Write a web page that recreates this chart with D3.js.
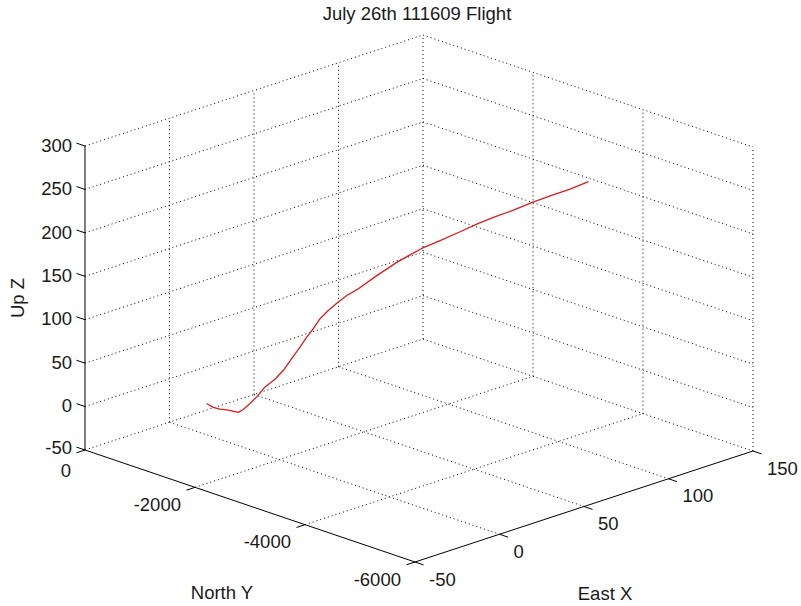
<!DOCTYPE html>
<html>
<head>
<meta charset="utf-8">
<script src="https://cdn.jsdelivr.net/npm/d3@7/dist/d3.min.js"></script>
<style>
  html, body { margin: 0; padding: 0; background: #fff; }
  svg { display: block; }
  text { font-family: "Liberation Sans", Arial, sans-serif; fill: #1a1a1a; }
</style>
</head>
<body>
<svg id="chart" width="801" height="606"></svg>
<script>
// Flight track (East X, North Y, Up Z)
const eastX = [-10.3, -8.3, -6.4, -3.9, -1.0, 0.4, 2.4, 4.4, 6.8, 9.7, 12.2, 14.6, 17.0, 19.0, 20.9,
  22.9, 25.3, 27.8, 30.7, 34.1, 39.5, 45.3, 49.2, 52.6, 58.0, 63.9, 68.7, 73.6, 79.5, 84.8, 90.2, 96.0, 101.4];
const northY = [-992, -1052, -1114, -1190, -1282, -1328, -1390, -1452, -1528, -1620, -1696, -1773, -1850, -1911, -1972,
  -2033, -2110, -2187, -2279, -2386, -2555, -2739, -2861, -2969, -3137, -3321, -3475, -3627, -3811, -3980, -4149, -4333, -4501];
const upZ = [-0.5, -5.0, -6.9, -7.9, -10.5, -7.0, 0.0, 7.6, 19.2, 28.1, 38.5, 52.1, 65.5, 77.0, 86.7,
  98.3, 107.9, 116.3, 125.3, 133.1, 148.5, 164.0, 172.7, 180.3, 189.4, 199.9, 208.9, 216.7, 225.4, 234.3, 242.2, 250.1, 259.0];

// Axis ticks
const xTicks = [-50, 0, 50, 100, 150];
const yTicks = [0, -2000, -4000, -6000];
const zTicks = [-50, 0, 50, 100, 150, 200, 250, 300];

const titleText = "July 26th 111609 Flight";
const xLabel = "East X", yLabel = "North Y", zLabel = "Up Z";

const svg = d3.select("#chart");

// Normalised axis scales
const xs = d3.scaleLinear().domain([-50, 150]).range([0, 1]);
const ys = d3.scaleLinear().domain([0, -6000]).range([0, 1]);
const zs = d3.scaleLinear().domain([-50, 300]).range([0, 1]);

// Orthographic view: screen vectors of each unit axis
const O = [85, 450];          // (x=-50, y=0, z=-50)
const U = [330, 112];         // along North Y (0 -> -6000)
const V = [338, -111];        // along East X (-50 -> 150)
const W = [0, -304];          // along Up Z (-50 -> 300)

function proj(x, y, z) {
  const a = ys(y), b = xs(x), c = zs(z);
  return [O[0] + a * U[0] + b * V[0] + c * W[0],
          O[1] + a * U[1] + b * V[1] + c * W[1]];
}
function unit(v) { const n = Math.hypot(v[0], v[1]); return [v[0] / n, v[1] / n]; }

const xMin = -50, xMax = 150, yMin = -6000, yMax = 0, zMin = -50, zMax = 300;

const gridG = svg.append("g")
  .attr("stroke", "#000").attr("stroke-width", 1)
  .attr("stroke-dasharray", "1,3").attr("fill", "none");

function seg(g, p, q) {
  g.append("line").attr("x1", p[0]).attr("y1", p[1]).attr("x2", q[0]).attr("y2", q[1]);
}

// Back wall y = 0
zTicks.forEach(z => seg(gridG, proj(xMin, yMax, z), proj(xMax, yMax, z)));
xTicks.filter(x => x !== xMin).forEach(x => seg(gridG, proj(x, yMax, zMin), proj(x, yMax, zMax)));
// Side wall x = 150
zTicks.forEach(z => seg(gridG, proj(xMax, yMax, z), proj(xMax, yMin, z)));
yTicks.filter(y => y !== yMax).forEach(y => seg(gridG, proj(xMax, y, zMin), proj(xMax, y, zMax)));
// Floor z = -50
xTicks.filter(x => x !== xMin && x !== xMax).forEach(x => seg(gridG, proj(x, yMax, zMin), proj(x, yMin, zMin)));
yTicks.filter(y => y !== yMin && y !== yMax).forEach(y => seg(gridG, proj(xMin, y, zMin), proj(xMax, y, zMin)));

// Axis lines
const axG = svg.append("g").attr("stroke", "#000").attr("stroke-width", 1).attr("fill", "none");
seg(axG, proj(xMin, yMax, zMin), proj(xMin, yMax, zMax));   // Z axis
seg(axG, proj(xMin, yMax, zMin), proj(xMin, yMin, zMin));   // Y axis
seg(axG, proj(xMin, yMin, zMin), proj(xMax, yMin, zMin));   // X axis

const tickLen = 9;
const dirZ = unit([-U[0], -U[1]]);
const dirY = unit([-V[0], -V[1]]);
const dirX = unit(U);

const lblG = svg.append("g").attr("font-size", 18.5);

// The lowest Z label and the first Y label share the corner; nudge them apart.
zTicks.forEach(z => {
  const p = proj(xMin, yMax, z);
  seg(axG, p, [p[0] + dirZ[0] * tickLen, p[1] + dirZ[1] * tickLen]);
  lblG.append("text").attr("x", 72).attr("y", p[1] - (z === zMin ? 3 : 1)).attr("dy", "0.36em")
    .attr("text-anchor", "end").text(z);
});
yTicks.forEach(y => {
  const p = proj(xMin, y, zMin);
  seg(axG, p, [p[0] + dirY[0] * tickLen, p[1] + dirY[1] * tickLen]);
  lblG.append("text").attr("x", p[0] - 14).attr("y", p[1] + (y === yMax ? 20 : 17)).attr("dy", "0.36em")
    .attr("text-anchor", "end").text(y);
});
xTicks.forEach(x => {
  const p = proj(x, yMin, zMin);
  seg(axG, p, [p[0] + dirX[0] * tickLen, p[1] + dirX[1] * tickLen]);
  lblG.append("text").attr("x", p[0] + 14).attr("y", p[1] + 17).attr("dy", "0.36em")
    .attr("text-anchor", "start").text(x);
});

// Flight path
const pts = eastX.map((x, i) => proj(x, northY[i], upZ[i]));
svg.append("path")
  .attr("d", d3.line()(pts))
  .attr("fill", "none")
  .attr("stroke", "#dd1c1c")
  .attr("stroke-width", 1.3)
  .attr("stroke-linejoin", "round");

// Titles
lblG.append("text").attr("x", 417).attr("y", 20).attr("text-anchor", "middle").text(titleText);
lblG.append("text").attr("x", 222).attr("y", 592).attr("dy", "0.36em").attr("text-anchor", "middle").text(yLabel);
lblG.append("text").attr("x", 605).attr("y", 593).attr("dy", "0.36em").attr("text-anchor", "middle").text(xLabel);
lblG.append("text").attr("transform", "translate(17,298) rotate(-90)").attr("dy", "0.36em")
  .attr("text-anchor", "middle").text(zLabel);
</script>
</body>
</html>
